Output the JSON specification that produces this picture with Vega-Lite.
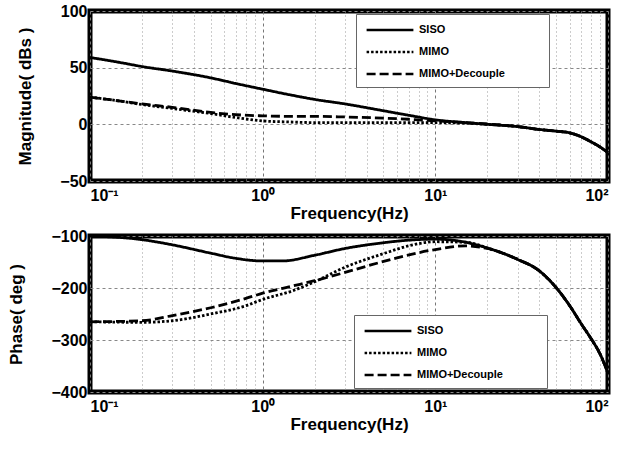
{
  "$schema": "https://vega.github.io/schema/vega-lite/v6.json",
  "background": "white",
  "padding": {"left": 5, "top": 0, "right": 5, "bottom": 5},
  "spacing": 1,
  "config": {
    "view": {"stroke": "black", "strokeWidth": 5},
    "font": "Liberation Sans",
    "axis": {
      "labelFont": "Liberation Sans", "labelFontWeight": "bold", "labelFontSize": 16, "labelColor": "black",
      "titleFont": "Liberation Sans", "titleFontWeight": "bold", "titleFontSize": 17, "titleColor": "black",
      "domain": false, "ticks": false, "gridColor": "#888", "gridOpacity": 1, "gridWidth": 1
    },
    "legend": {
      "orient": "none", "fillColor": "white", "strokeColor": "#666", "strokeWidth": 1,
      "labelFont": "Liberation Sans", "labelFontWeight": "bold", "labelFontSize": 11, "labelColor": "black", "labelLimit": 300,
      "symbolType": "M-3.6,0H3.6", "symbolStrokeWidth": 2.5, "symbolStrokeColor": "black", "symbolSize": 169,
      "symbolOffset": 18, "labelOffset": 21,
      "padding": 8, "rowPadding": 9
    }
  },
  "datasets": {
    "mag": [
      {"f": 0.1, "v": 59, "s": "SISO"}, {"f": 0.15, "v": 54.5, "s": "SISO"}, {"f": 0.2, "v": 51, "s": "SISO"}, {"f": 0.3, "v": 47, "s": "SISO"}, {"f": 0.5, "v": 41, "s": "SISO"}, {"f": 0.7, "v": 36, "s": "SISO"}, {"f": 1, "v": 31, "s": "SISO"}, {"f": 1.5, "v": 25.5, "s": "SISO"}, {"f": 2, "v": 22, "s": "SISO"}, {"f": 3, "v": 18, "s": "SISO"}, {"f": 5, "v": 12, "s": "SISO"}, {"f": 7, "v": 8, "s": "SISO"}, {"f": 10, "v": 4, "s": "SISO"}, {"f": 15, "v": 1.5, "s": "SISO"}, {"f": 20, "v": 0, "s": "SISO"}, {"f": 30, "v": -2, "s": "SISO"}, {"f": 40, "v": -4.5, "s": "SISO"}, {"f": 50, "v": -6, "s": "SISO"}, {"f": 60, "v": -7.5, "s": "SISO"}, {"f": 70, "v": -11, "s": "SISO"}, {"f": 80, "v": -15.5, "s": "SISO"}, {"f": 90, "v": -20, "s": "SISO"}, {"f": 100, "v": -25, "s": "SISO"},
      {"f": 0.1, "v": 24, "s": "MIMO"}, {"f": 0.15, "v": 20.5, "s": "MIMO"}, {"f": 0.2, "v": 17.5, "s": "MIMO"}, {"f": 0.3, "v": 14, "s": "MIMO"}, {"f": 0.5, "v": 9.5, "s": "MIMO"}, {"f": 0.7, "v": 6, "s": "MIMO"}, {"f": 1, "v": 3, "s": "MIMO"}, {"f": 1.5, "v": 2, "s": "MIMO"}, {"f": 2, "v": 1.5, "s": "MIMO"}, {"f": 3, "v": 1.5, "s": "MIMO"}, {"f": 5, "v": 1.5, "s": "MIMO"}, {"f": 7, "v": 1.5, "s": "MIMO"}, {"f": 10, "v": 1.5, "s": "MIMO"}, {"f": 15, "v": 1, "s": "MIMO"}, {"f": 20, "v": 0, "s": "MIMO"}, {"f": 30, "v": -2, "s": "MIMO"}, {"f": 40, "v": -4.5, "s": "MIMO"}, {"f": 50, "v": -6, "s": "MIMO"}, {"f": 60, "v": -7.5, "s": "MIMO"}, {"f": 70, "v": -11, "s": "MIMO"}, {"f": 80, "v": -15.5, "s": "MIMO"}, {"f": 90, "v": -20, "s": "MIMO"}, {"f": 100, "v": -25, "s": "MIMO"},
      {"f": 0.1, "v": 24, "s": "MIMO+Decouple"}, {"f": 0.15, "v": 20.5, "s": "MIMO+Decouple"}, {"f": 0.2, "v": 18, "s": "MIMO+Decouple"}, {"f": 0.3, "v": 15, "s": "MIMO+Decouple"}, {"f": 0.5, "v": 10.5, "s": "MIMO+Decouple"}, {"f": 0.7, "v": 8.5, "s": "MIMO+Decouple"}, {"f": 1, "v": 7.5, "s": "MIMO+Decouple"}, {"f": 1.5, "v": 7, "s": "MIMO+Decouple"}, {"f": 2, "v": 7, "s": "MIMO+Decouple"}, {"f": 3, "v": 6.5, "s": "MIMO+Decouple"}, {"f": 5, "v": 5.5, "s": "MIMO+Decouple"}, {"f": 7, "v": 4.5, "s": "MIMO+Decouple"}, {"f": 10, "v": 3, "s": "MIMO+Decouple"}, {"f": 15, "v": 1.5, "s": "MIMO+Decouple"}, {"f": 20, "v": 0.3, "s": "MIMO+Decouple"}, {"f": 30, "v": -2, "s": "MIMO+Decouple"}, {"f": 40, "v": -4.5, "s": "MIMO+Decouple"}, {"f": 50, "v": -6, "s": "MIMO+Decouple"}, {"f": 60, "v": -7.5, "s": "MIMO+Decouple"}, {"f": 70, "v": -11, "s": "MIMO+Decouple"}, {"f": 80, "v": -15.5, "s": "MIMO+Decouple"}, {"f": 90, "v": -20, "s": "MIMO+Decouple"}, {"f": 100, "v": -25, "s": "MIMO+Decouple"}
    ],
    "phase": [
      {"f": 0.1, "v": -100, "s": "SISO"}, {"f": 0.2, "v": -107, "s": "SISO"}, {"f": 0.3, "v": -117, "s": "SISO"}, {"f": 0.5, "v": -133, "s": "SISO"}, {"f": 0.7, "v": -143, "s": "SISO"}, {"f": 1, "v": -148, "s": "SISO"}, {"f": 1.3, "v": -148, "s": "SISO"}, {"f": 2, "v": -137, "s": "SISO"}, {"f": 3, "v": -124, "s": "SISO"}, {"f": 5, "v": -113, "s": "SISO"}, {"f": 7, "v": -108, "s": "SISO"}, {"f": 10, "v": -106, "s": "SISO"}, {"f": 15, "v": -112, "s": "SISO"}, {"f": 20, "v": -123, "s": "SISO"}, {"f": 30, "v": -145, "s": "SISO"}, {"f": 40, "v": -167, "s": "SISO"}, {"f": 50, "v": -199, "s": "SISO"}, {"f": 60, "v": -234, "s": "SISO"}, {"f": 70, "v": -269, "s": "SISO"}, {"f": 80, "v": -298, "s": "SISO"}, {"f": 90, "v": -327, "s": "SISO"}, {"f": 100, "v": -364, "s": "SISO"},
      {"f": 0.1, "v": -265, "s": "MIMO"}, {"f": 0.2, "v": -266, "s": "MIMO"}, {"f": 0.3, "v": -263, "s": "MIMO"}, {"f": 0.5, "v": -250, "s": "MIMO"}, {"f": 0.8, "v": -234, "s": "MIMO"}, {"f": 1, "v": -222, "s": "MIMO"}, {"f": 1.5, "v": -205, "s": "MIMO"}, {"f": 2, "v": -188, "s": "MIMO"}, {"f": 3, "v": -160, "s": "MIMO"}, {"f": 5, "v": -134, "s": "MIMO"}, {"f": 7, "v": -119, "s": "MIMO"}, {"f": 10, "v": -111, "s": "MIMO"}, {"f": 15, "v": -112, "s": "MIMO"}, {"f": 20, "v": -123, "s": "MIMO"}, {"f": 30, "v": -145, "s": "MIMO"}, {"f": 40, "v": -167, "s": "MIMO"}, {"f": 50, "v": -199, "s": "MIMO"}, {"f": 60, "v": -234, "s": "MIMO"}, {"f": 70, "v": -269, "s": "MIMO"}, {"f": 80, "v": -298, "s": "MIMO"}, {"f": 90, "v": -327, "s": "MIMO"}, {"f": 100, "v": -364, "s": "MIMO"},
      {"f": 0.1, "v": -265, "s": "MIMO+Decouple"}, {"f": 0.2, "v": -263, "s": "MIMO+Decouple"}, {"f": 0.3, "v": -253, "s": "MIMO+Decouple"}, {"f": 0.5, "v": -238, "s": "MIMO+Decouple"}, {"f": 0.8, "v": -220, "s": "MIMO+Decouple"}, {"f": 1, "v": -210, "s": "MIMO+Decouple"}, {"f": 1.5, "v": -196, "s": "MIMO+Decouple"}, {"f": 2, "v": -186, "s": "MIMO+Decouple"}, {"f": 3, "v": -170, "s": "MIMO+Decouple"}, {"f": 4, "v": -158, "s": "MIMO+Decouple"}, {"f": 6, "v": -142, "s": "MIMO+Decouple"}, {"f": 10, "v": -126, "s": "MIMO+Decouple"}, {"f": 15, "v": -119, "s": "MIMO+Decouple"}, {"f": 20, "v": -124, "s": "MIMO+Decouple"}, {"f": 30, "v": -145, "s": "MIMO+Decouple"}, {"f": 40, "v": -167, "s": "MIMO+Decouple"}, {"f": 50, "v": -199, "s": "MIMO+Decouple"}, {"f": 60, "v": -234, "s": "MIMO+Decouple"}, {"f": 70, "v": -269, "s": "MIMO+Decouple"}, {"f": 80, "v": -298, "s": "MIMO+Decouple"}, {"f": 90, "v": -327, "s": "MIMO+Decouple"}, {"f": 100, "v": -364, "s": "MIMO+Decouple"}
    ]
  },
  "resolve": {"scale": {"strokeDash": "independent"}, "legend": {"strokeDash": "independent"}},
  "vconcat": [
    {
      "width": 518, "height": 170,
      "data": {"name": "mag"},
      "mark": {"type": "line", "color": "black", "strokeWidth": 2.8, "interpolate": "monotone"},
      "encoding": {
        "x": {"field": "f", "type": "quantitative", "scale": {"type": "log", "domain": [0.1, 100], "nice": false},
          "axis": {"title": "Frequency(Hz)", "titlePadding": 2, "labelPadding": 6,
            "values": [0.1,0.2,0.3,0.4,0.5,0.6,0.7,0.8,0.9,1,2,3,4,5,6,7,8,9,10,20,30,40,50,60,70,80,90,100],
            "labelExpr": "datum.value == 0.1 ? '10⁻¹' : datum.value == 1 ? '10⁰' : datum.value == 10 ? '10¹' : datum.value == 100 ? '10²' : ''",
            "gridDash": {"condition": {"test": "indexof([0.1,1,10,100], datum.value) >= 0", "value": [3, 3]}, "value": [1, 3]},
            "gridColor": {"condition": {"test": "indexof([0.1,1,10,100], datum.value) >= 0", "value": "#777"}, "value": "#999"}}},
        "y": {"field": "v", "type": "quantitative", "scale": {"domain": [-50, 100], "nice": false},
          "axis": {"title": "Magnitude( dBs )", "values": [-50, 0, 50, 100], "gridDash": [3, 3], "labelPadding": 3, "titlePadding": 25}},
        "strokeDash": {"field": "s", "type": "nominal",
          "scale": {"domain": ["SISO", "MIMO", "MIMO+Decouple"], "range": [[1, 0], [2.5, 2], [9, 4]]},
          "legend": {"legendX": 266, "legendY": 3, "title": "MMM", "titleOrient": "right", "titleColor": "white", "titleFontSize": 11, "titleFontWeight": "bold", "titlePadding": 8}}
      }
    },
    {
      "width": 518, "height": 156,
      "data": {"name": "phase"},
      "mark": {"type": "line", "color": "black", "strokeWidth": 2.8, "interpolate": "monotone"},
      "encoding": {
        "x": {"field": "f", "type": "quantitative", "scale": {"type": "log", "domain": [0.1, 100], "nice": false},
          "axis": {"title": "Frequency(Hz)", "titlePadding": 2, "labelPadding": 6,
            "values": [0.1,0.2,0.3,0.4,0.5,0.6,0.7,0.8,0.9,1,2,3,4,5,6,7,8,9,10,20,30,40,50,60,70,80,90,100],
            "labelExpr": "datum.value == 0.1 ? '10⁻¹' : datum.value == 1 ? '10⁰' : datum.value == 10 ? '10¹' : datum.value == 100 ? '10²' : ''",
            "gridDash": {"condition": {"test": "indexof([0.1,1,10,100], datum.value) >= 0", "value": [3, 3]}, "value": [1, 3]},
            "gridColor": {"condition": {"test": "indexof([0.1,1,10,100], datum.value) >= 0", "value": "#777"}, "value": "#999"}}},
        "y": {"field": "v", "type": "quantitative", "scale": {"domain": [-400, -100], "nice": false},
          "axis": {"title": "Phase( deg )", "values": [-400, -300, -200, -100], "gridDash": [3, 3], "labelPadding": 3, "titlePadding": 25}},
        "strokeDash": {"field": "s", "type": "nominal",
          "scale": {"domain": ["SISO", "MIMO", "MIMO+Decouple"], "range": [[1, 0], [2.5, 2], [9, 4]]},
          "legend": {"legendX": 264, "legendY": 79, "title": "MMM", "titleOrient": "right", "titleColor": "white", "titleFontSize": 11, "titleFontWeight": "bold", "titlePadding": 8}}
      }
    }
  ]
}
